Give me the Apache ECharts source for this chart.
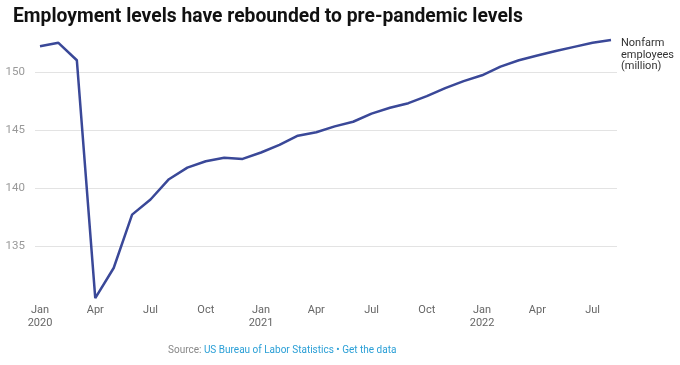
<!DOCTYPE html>
<html>
<head>
<meta charset="utf-8">
<script src="https://cdn.jsdelivr.net/npm/echarts@6/dist/echarts.min.js"></script>
<style>
html,body{margin:0;padding:0;background:#fff;}
#c{width:680px;height:365px;}
</style>
</head>
<body>
<div id="c"></div>
<script>
const monthNames = ['Jan','Feb','Mar','Apr','May','Jun','Jul','Aug','Sep','Oct','Nov','Dec'];
const years = [2020, 2021, 2022];
const employees2020 = [152.2, 152.5, 151.0, 130.5, 133.1, 137.7, 139.0, 140.75, 141.75, 142.3, 142.6, 142.5];
const employees2021 = [143.05, 143.7, 144.5, 144.8, 145.3, 145.7, 146.4, 146.9, 147.3, 147.9, 148.6, 149.2];
const employees2022 = [149.7, 150.45, 151.0, 151.4, 151.8, 152.15, 152.5, 152.75];
const yTicks = [135, 140, 145, 150];
const seriesName = 'Nonfarm\nemployees\n(million)';
const titleText = 'Employment levels have rebounded to pre-pandemic levels';

const values = [].concat(employees2020, employees2021, employees2022);
const categories = values.map((v, i) => {
  const m = i % 12, y = years[Math.floor(i / 12)];
  return m === 0 ? monthNames[m] + '\n' + y : monthNames[m];
});

const FONT = 'Roboto';
const chart = echarts.init(document.getElementById('c'), null, {renderer: 'canvas'});
chart.setOption({
  animation: false,
  backgroundColor: '#fff',
  textStyle: {fontFamily: FONT},
  title: {
    text: titleText,
    left: 8,
    top: 3,
    textStyle: {fontFamily: FONT, fontWeight: 'bold', fontSize: 19.3, color: '#111'}
  },
  grid: [
    {left: 35, right: 63, top: 37, bottom: 61},
    {left: 40, right: 69, top: 37, bottom: 61}
  ],
  xAxis: [
    {gridIndex: 0, type: 'value', min: 0, max: 1, show: false},
    {
      gridIndex: 1, type: 'category', data: categories, boundaryGap: false,
      axisLine: {show: false}, axisTick: {show: false},
      axisLabel: {interval: 2, margin: 0, color: '#666', fontSize: 11, lineHeight: 13, fontFamily: FONT}
    }
  ],
  yAxis: [
    {
      gridIndex: 0, type: 'value', min: 130, max: 153, interval: 5,
      axisLine: {show: false}, axisTick: {show: false},
      axisLabel: {
        color: '#999', fontSize: 11.5, margin: 10, fontFamily: FONT,
        showMinLabel: false, showMaxLabel: false,
        formatter: v => yTicks.indexOf(v) >= 0 ? String(v) : ''
      },
      splitLine: {show: true, showMinLine: false, showMaxLine: false, lineStyle: {color: '#e3e3e3', width: 1}}
    },
    {gridIndex: 1, type: 'value', min: 130, max: 153, show: false, splitLine: {show: false}}
  ],
  series: [{
    name: seriesName,
    type: 'line',
    xAxisIndex: 1,
    yAxisIndex: 1,
    data: values,
    symbol: 'none',
    lineStyle: {color: '#3a4898', width: 2.5},
    itemStyle: {color: '#3a4898'},
    endLabel: {
      show: true,
      formatter: seriesName,
      color: '#333',
      fontSize: 11,
      lineHeight: 11.5,
      fontFamily: FONT,
      align: 'left',
      offset: [2, 15]
    }
  }],
  graphic: [{
    type: 'text',
    left: 168,
    top: 345,
    style: {
      text: '{g|Source: }{b|US Bureau of Labor Statistics • Get the data}',
      rich: {
        g: {fill: '#888', fontSize: 10, fontFamily: FONT},
        b: {fill: '#2a9fd6', fontSize: 10, fontFamily: FONT}
      }
    }
  }]
});
</script>
</body>
</html>
